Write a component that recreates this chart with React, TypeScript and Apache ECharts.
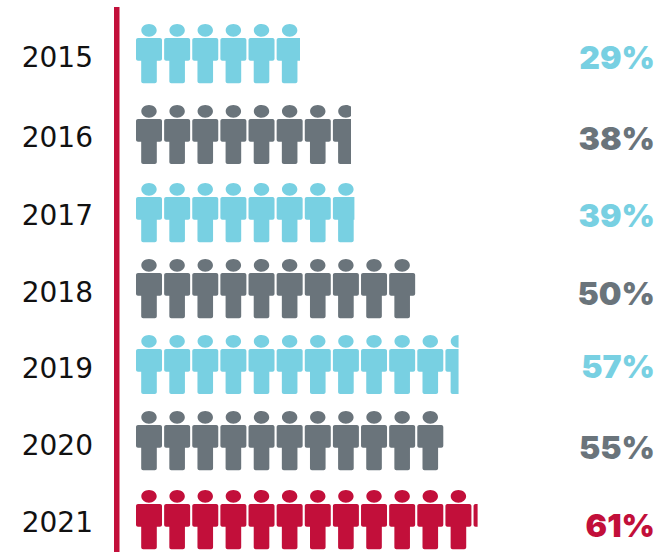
import React, { useEffect, useRef } from "react";
import * as echarts from "echarts";

const years = ["2015", "2016", "2017", "2018", "2019", "2020", "2021"];
const percentLabels = ["29%", "38%", "39%", "50%", "57%", "55%", "61%"];
const fillValues = [29.3, 38.4, 39, 50, 57.6, 55, 61];
const colorNames = ["blue", "grey", "blue", "grey", "blue", "grey", "red"];
const palette: Record<string, string> = { blue: "#78D0E2", grey: "#6A747B", red: "#C20F3A" };
const rowShift = [0, 3.3, 3.7, 2, 0.3, -1.3, 0];
const labelShift = [3.5, 5.8, 6.2, 5.5, 3.8, 3.2, 2.5];
const valueShift = [3.5, 6.8, 6.2, 6.5, 1.8, 5.2, 5.5];

const PERSON =
  "path://M13 0C17.3 0 20.7 2.8 20.7 6.3C20.7 9.9 17.3 12.7 13 12.7C8.7 12.7 5.3 9.9 5.3 6.3C5.3 2.8 8.7 0 13 0Z" +
  "M2 14H24C25.1 14 26 14.9 26 16V34.7C26 35.8 25.1 36.7 24 36.7H20.8V57C20.8 58.1 19.9 59 18.8 59H7.2C6.1 59 5.2 58.1 5.2 57V36.7H2C0.9 36.7 0 35.8 0 34.7V16C0 14.9 0.9 14 2 14Z";

const shiftRich = (shifts: number[], font: object, colors?: string[]) =>
  Object.fromEntries(
    shifts.map((s, i) => [
      `r${i}`,
      { ...font, ...(colors ? { color: colors[i] } : {}), padding: s >= 0 ? [s * 2, 0, 0, 0] : [0, 0, -s * 2, 0] },
    ])
  );

export default function App() {
  const ref = useRef<HTMLDivElement>(null);
  useEffect(() => {
    const chart = echarts.init(ref.current!, undefined, { renderer: "svg" });
    const colors = colorNames.map((c) => palette[c]);
    chart.setOption({
      animation: false,
      grid: { left: 136, top: 14.7, width: 518, height: 543.7, outerBoundsMode: "none" },
      xAxis: { type: "value", min: 0, max: 92.5, show: false },
      yAxis: [
        {
          type: "category",
          inverse: true,
          data: years,
          axisLine: { show: false },
          axisTick: { show: false },
          axisLabel: {
            margin: 43,
            formatter: (v: string, i: number) => `{r${i}|${v}}`,
            rich: shiftRich(labelShift, { fontFamily: "DejaVu Sans", fontSize: 28, color: "#111111" }),
          },
        },
        {
          type: "category",
          inverse: true,
          position: "right",
          data: percentLabels,
          axisLine: { show: false },
          axisTick: { show: false },
          axisLabel: {
            inside: true,
            margin: -1,
            formatter: (v: string, i: number) => `{r${i}|${v}}`,
            rich: shiftRich(valueShift, { fontFamily: "Inter", fontSize: 32, fontWeight: 900 }, colors),
          },
        },
      ],
      graphic: [
        { type: "rect", x: 114, y: 7, shape: { width: 5.5, height: 545 }, style: { fill: palette.red } },
      ],
      series: [
        {
          type: "pictorialBar",
          yAxisIndex: 0,
          symbol: PERSON,
          symbolSize: [26, 59],
          symbolMargin: 1.065,
          symbolRepeat: "fixed",
          symbolClip: true,
          symbolBoundingData: 64.92,
          symbolPosition: "start",
          data: fillValues.map((v, i) => ({
            value: v,
            symbolOffset: [0, rowShift[i]],
            itemStyle: { color: colors[i] },
          })),
        },
      ],
    });
    return () => chart.dispose();
  }, []);
  return <div ref={ref} style={{ position: "fixed", left: 0, top: 0, width: 666, height: 552, background: "#fff" }} />;
}
